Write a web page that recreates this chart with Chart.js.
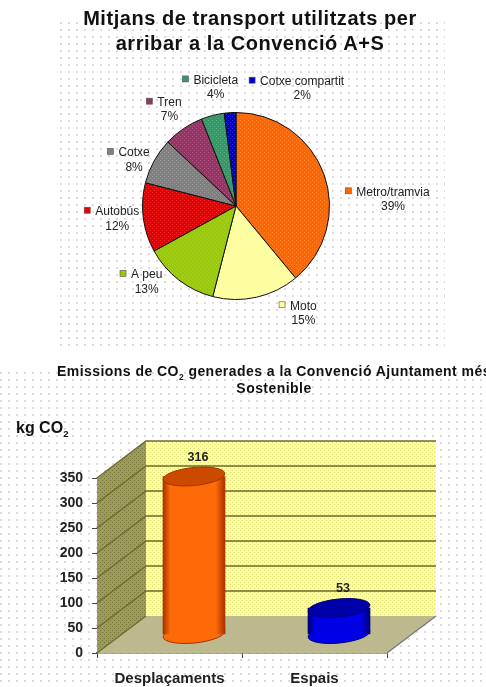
<!DOCTYPE html>
<html lang="ca">
<head>
<meta charset="utf-8">
<title>Convenció A+S</title>
<script src="https://cdn.jsdelivr.net/npm/chart.js@4"></script>
<style>
  html, body { margin: 0; padding: 0; background: #fff; }
  body { position: relative; width: 486px; height: 687px; overflow: hidden; font-family: "Liberation Sans", Arial, sans-serif; color: #111; }
  .zona { position: absolute; filter: blur(.5px); }
  .puntets {
    position: absolute;
    background-image: radial-gradient(circle at 1px 1px, rgba(150, 110, 150, .28) 0, rgba(150, 110, 150, .28) .7px, transparent 1.2px);
    background-size: 8px 7px;
  }
  .titol { position: absolute; text-align: center; font-weight: bold; white-space: nowrap; filter: blur(.4px); }
  canvas { display: block; }
  sub { font-size: 60%; line-height: 0; }
</style>
</head>
<body>
<div class="puntets" style="left:60px;top:22px;width:385px;height:326px"></div>
<div class="puntets" style="left:0;top:372px;width:486px;height:315px"></div>

<div class="titol" style="left:0;top:6px;width:500px;font-size:20px;line-height:25px;letter-spacing:.55px">Mitjans de transport utilitzats per<br>arribar a la Convenció A+S</div>
<div class="titol" style="left:0;top:363px;width:548px;font-size:14px;line-height:17px;letter-spacing:.45px">Emissions de CO<sub>2</sub> generades a la Convenció Ajuntament més<br>Sostenible</div>
<div class="titol" style="left:16px;top:418px;font-size:16px;line-height:20px">kg CO<sub>2</sub></div>

<div class="zona" style="left:0;top:0"><canvas id="graficTransport" width="486" height="350"></canvas></div>
<div class="zona" style="left:0;top:350px"><canvas id="graficEmissions" width="486" height="337"></canvas></div>

<script>
  // dades del pastis
  const mitjans = ["Metro/tramvia", "Moto", "A peu", "Autobús", "Cotxe", "Tren", "Bicicleta", "Cotxe compartit"];
  const percentatges = [39, 15, 13, 12, 8, 7, 4, 2];

  // dades de les barres
  const categories = ["Desplaçaments", "Espais"];
  const emissions = [316, 53];
  const ticksKg = [0, 50, 100, 150, 200, 250, 300, 350];

  // estil
  const colorsPastis = ["#FF6600", "#FFFF99", "#99CC00", "#E80000", "#808080", "#993366", "#339966", "#0000CC"];
  const desplEtiquetes = [[69, 18], [47, 9], [-32, -5], [-26, -6], [-20, -8], [-14, -26], [3, -35], [72, -31]];
  const colorsCilindre = [
    { vora: "#A83200", clar: "#FF6A08", tapa: "#CC4A00" },
    { vora: "#00007A", clar: "#0000E6", tapa: "#0000A8" }
  ];
  const fons = 49, pujada = 37; // profunditat del 3D en pixels
  const radiX = 31, radiY = 9, inclinacio = -0.1;

  // color pla amb puntets clars, com el tramat de la imatge
  function tramat(color, puntet) {
    const c = document.createElement("canvas");
    c.width = 4; c.height = 4;
    const g = c.getContext("2d");
    g.fillStyle = color;
    g.fillRect(0, 0, 4, 4);
    g.fillStyle = puntet;
    g.fillRect(0, 0, 1, 1);
    g.fillRect(2, 2, 1, 1);
    return g.createPattern(c, "repeat");
  }

  const etiquetesPastis = {
    id: "etiquetesPastis",
    afterDatasetsDraw(chart) {
      const ctx = chart.ctx;
      ctx.save();
      ctx.font = "12px 'Liberation Sans', Arial, sans-serif";
      ctx.textAlign = "center";
      ctx.textBaseline = "middle";
      chart.getDatasetMeta(0).data.forEach((arc, i) => {
        const mig = (arc.startAngle + arc.endAngle) / 2;
        const x = arc.x + Math.cos(mig) * arc.outerRadius + desplEtiquetes[i][0];
        const y = arc.y + Math.sin(mig) * arc.outerRadius + desplEtiquetes[i][1];
        ctx.fillStyle = "#222";
        ctx.fillText(mitjans[i], x, y);
        ctx.fillText(percentatges[i] + "%", x, y + 14.5);
        const ample = ctx.measureText(mitjans[i]).width;
        ctx.fillStyle = colorsPastis[i];
        ctx.strokeStyle = "#555";
        ctx.lineWidth = 0.6;
        ctx.fillRect(x - ample / 2 - 11, y - 4.5, 6, 6);
        ctx.strokeRect(x - ample / 2 - 11, y - 4.5, 6, 6);
      });
      ctx.restore();
    }
  };

  new Chart(document.getElementById("graficTransport").getContext("2d"), {
    type: "pie",
    data: {
      labels: mitjans,
      datasets: [{
        data: percentatges,
        backgroundColor: colorsPastis.map(c => tramat(c, "rgba(255,255,255,.18)")),
        borderColor: "#111",
        borderWidth: 1
      }]
    },
    options: {
      responsive: false,
      animation: false,
      layout: { autoPadding: false, padding: { left: 142, right: 156, top: 112, bottom: 50 } },
      plugins: { legend: { display: false }, tooltip: { enabled: false } }
    },
    plugins: [etiquetesPastis]
  });

  function poligon(ctx, punts, fill) {
    ctx.beginPath();
    punts.forEach((p, i) => i ? ctx.lineTo(p[0], p[1]) : ctx.moveTo(p[0], p[1]));
    ctx.closePath();
    ctx.fillStyle = fill;
    ctx.fill();
  }

  // parets, terra i linies de la graella en perspectiva
  const caixa3D = {
    id: "caixa3D",
    beforeDatasetsDraw(chart) {
      const ctx = chart.ctx;
      const { left, right } = chart.chartArea;
      const y = chart.scales.y;
      const y0 = y.getPixelForValue(0), yMax = y.getPixelForValue(350);
      ctx.save();
      poligon(ctx, [[left + fons, yMax - pujada], [right + fons, yMax - pujada], [right + fons, y0 - pujada], [left + fons, y0 - pujada]], tramat("#FFFF99", "rgba(120,120,40,.25)"));
      poligon(ctx, [[left, yMax], [left + fons, yMax - pujada], [left + fons, y0 - pujada], [left, y0]], tramat("#9C9C5A", "rgba(60,60,10,.4)"));
      poligon(ctx, [[left, y0], [left + fons, y0 - pujada], [right + fons, y0 - pujada], [right, y0]], "#BDB98F");
      ctx.strokeStyle = "#6B6B2E";
      ctx.lineWidth = 1.3;
      ticksKg.forEach(v => {
        const py = y.getPixelForValue(v);
        ctx.beginPath();
        ctx.moveTo(left, py);
        ctx.lineTo(left + fons, py - pujada);
        if (v > 0) ctx.lineTo(right + fons, py - pujada);
        ctx.stroke();
      });
      ctx.strokeStyle = "#777";
      ctx.beginPath();
      ctx.moveTo(right, y0);
      ctx.lineTo(right + fons, y0 - pujada);
      ctx.stroke();
      ctx.restore();

      // els cilindres es dibuixen a mitja profunditat; el translate es tanca a afterDatasetsDraw
      ctx.save();
      ctx.translate(fons / 2, -pujada / 2);
      chart.getDatasetMeta(0).data.forEach((bar, i) => {
        ctx.beginPath();
        ctx.ellipse(bar.x, bar.base, radiX, radiY, inclinacio, 0, Math.PI * 2);
        ctx.fillStyle = colorsCilindre[i].clar;
        ctx.fill();
        ctx.strokeStyle = colorsCilindre[i].vora;
        ctx.lineWidth = 1;
        ctx.stroke();
      });
    },
    afterDatasetsDraw(chart) {
      const ctx = chart.ctx;
      chart.getDatasetMeta(0).data.forEach((bar, i) => {
        ctx.beginPath();
        ctx.ellipse(bar.x, bar.y, radiX, radiY, inclinacio, 0, Math.PI * 2);
        ctx.fillStyle = colorsCilindre[i].tapa;
        ctx.fill();
        ctx.strokeStyle = colorsCilindre[i].vora;
        ctx.lineWidth = 1;
        ctx.stroke();
        ctx.fillStyle = "#222";
        ctx.font = "bold 12.5px 'Liberation Sans', Arial, sans-serif";
        ctx.textAlign = "center";
        ctx.textBaseline = "middle";
        ctx.fillText(emissions[i], bar.x + 4, bar.y - 19);
      });
      ctx.restore();
    }
  };

  const ctxEmissions = document.getElementById("graficEmissions").getContext("2d");

  new Chart(ctxEmissions, {
    type: "bar",
    data: {
      labels: categories,
      datasets: [{
        data: emissions,
        barThickness: radiX * 2,
        clip: false,
        backgroundColor(context) {
          const i = context.dataIndex;
          const cx = context.chart.scales.x ? context.chart.scales.x.getPixelForValue(i) : NaN;
          // abans del layout l'escala encara no te mides
          if (!Number.isFinite(cx)) return colorsCilindre[i || 0].clar;
          const grad = ctxEmissions.createLinearGradient(cx - radiX, 0, cx + radiX, 0);
          grad.addColorStop(0, colorsCilindre[i].vora);
          grad.addColorStop(0.12, colorsCilindre[i].clar);
          grad.addColorStop(0.85, colorsCilindre[i].clar);
          grad.addColorStop(1, colorsCilindre[i].vora);
          return grad;
        }
      }]
    },
    options: {
      responsive: false,
      animation: false,
      layout: { autoPadding: false, padding: { left: 0, right: 99, top: 128, bottom: 0 } },
      scales: {
        x: {
          afterFit(s) { s.height = 34; },
          border: { color: "#555", width: 1.5 },
          grid: { drawOnChartArea: false, color: "#444", tickLength: 5 },
          ticks: { color: "#222", padding: 12, maxRotation: 0, font: { family: "'Liberation Sans', Arial, sans-serif", size: 15, weight: "bold" } }
        },
        y: {
          min: 0,
          max: 350,
          afterFit(s) { s.width = 97; },
          afterBuildTicks(s) { s.ticks = ticksKg.map(v => ({ value: v })); },
          border: { color: "#666" },
          grid: { drawOnChartArea: false, color: "#444", tickLength: 5 },
          ticks: { color: "#222", padding: 9, font: { family: "'Liberation Sans', Arial, sans-serif", size: 14, weight: "bold" } }
        }
      },
      plugins: { legend: { display: false }, tooltip: { enabled: false } }
    },
    plugins: [caixa3D]
  });
</script>
</body>
</html>
